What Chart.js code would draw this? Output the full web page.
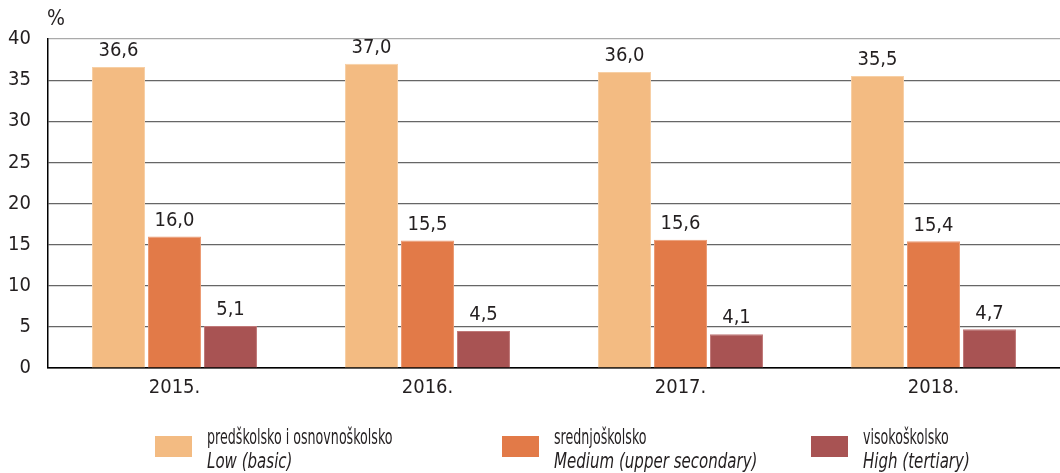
<!DOCTYPE html>
<html>
<head>
<meta charset="utf-8">
<script src="https://cdn.jsdelivr.net/npm/chart.js@4/dist/chart.umd.min.js"></script>
<style>
  html, body { margin: 0; padding: 0; background: #fff; }
  #wrap { position: relative; width: 1060px; height: 473px; }
  #chart { position: absolute; left: 0; top: 0; }
  .unit { position: absolute; left: 47px; top: 6px; font: 21px "DejaVu Sans Condensed", "Liberation Sans Narrow", sans-serif; color: #231f20; }
  .leg { position: absolute; top: 426px; font-family: "DejaVu Sans Condensed", "Liberation Sans Narrow", sans-serif; color: #231f20; }
  .leg .sw { position: absolute; left: 0; top: 10px; width: 37px; height: 21px; }
  .leg .t1, .leg .t2 { position: absolute; left: 52px; font-size: 22px; white-space: nowrap; transform-origin: left top; }
  .leg .t1 { top: -2px; transform: scaleX(0.64); }
  .leg .t2 { top: 22px; font-style: italic; transform: scaleX(0.76); }
</style>
</head>
<body>
<div id="wrap">
  <canvas id="chart" width="1060" height="473"></canvas>
  <div class="unit">%</div>
  <div id="legend"></div>
</div>
<script>
// data
var years = ["2015.", "2016.", "2017.", "2018."];
var seriesNames = ["predškolsko i osnovnoškolsko", "srednjoškolsko", "visokoškolsko"];
var seriesNamesEn = ["Low (basic)", "Medium (upper secondary)", "High (tertiary)"];
var lowBasic = [36.6, 37.0, 36.0, 35.5];
var mediumSecondary = [16.0, 15.5, 15.6, 15.4];
var highTertiary = [5.1, 4.5, 4.1, 4.7];
var colors = ["#f3bb82", "#e27a48", "#a85353"];
var edgeColors = ["#f7cfa4", "#ec9a72", "#c07878"];
var legendX = [155, 502, 811];

var fontFam = '"DejaVu Sans Condensed", "Liberation Sans Narrow", sans-serif';
var textCol = "#231f20";

// value labels over the bars
var barLabels = {
    id: "barLabels",
    afterDatasetsDraw: function(chart) {
        var ctx = chart.ctx;
        ctx.save();
        ctx.font = "20px " + fontFam;
        ctx.fillStyle = textCol;
        ctx.textAlign = "center";
        ctx.textBaseline = "bottom";
        chart.data.datasets.forEach(function(ds, i) {
            chart.getDatasetMeta(i).data.forEach(function(bar, j) {
                ctx.fillText(ds.data[j].toFixed(1).replace(".", ","), bar.x, bar.y - 6);
            });
        });
        ctx.restore();
    }
};

new Chart(document.getElementById("chart"), {
    type: "bar",
    data: {
        labels: years,
        datasets: [lowBasic, mediumSecondary, highTertiary].map(function(d, i) {
            return {
                label: seriesNames[i],
                data: d,
                backgroundColor: colors[i],
                borderColor: edgeColors[i],
                borderWidth: { top: 1, left: 1, right: 1, bottom: 0 },
                barPercentage: 0.946,
                categoryPercentage: 0.664
            };
        })
    },
    options: {
        responsive: false,
        animation: false,
        events: [],
        layout: { padding: { top: 39, right: 0, left: 0, bottom: 0 } },
        plugins: { legend: { display: false }, tooltip: { enabled: false } },
        scales: {
            x: {
                grid: { display: false, drawTicks: false },
                border: { color: "#000", width: 1.5 },
                ticks: { color: textCol, font: { family: fontFam, size: 20 }, padding: 8 },
                afterFit: function(s) { s.height = 105; }
            },
            y: {
                min: 0,
                max: 40,
                ticks: { stepSize: 5, color: textCol, font: { family: fontFam, size: 20 }, padding: 17 },
                grid: {
                    drawTicks: false,
                    color: function(c) { return c.tick && c.tick.value === 40 ? "#aaaaaa" : (c.tick && c.tick.value === 0 ? "#000" : "#666666"); },
                    lineWidth: 1.2
                },
                border: { color: "#000", width: 1.5 },
                afterFit: function(s) { s.width = 48; }
            }
        }
    },
    plugins: [barLabels]
});

// legend with two-line labels
var legHtml = "";
for (var i = 0; i < seriesNames.length; i++) {
    legHtml += '<div class="leg" style="left:' + legendX[i] + 'px">' +
        '<div class="sw" style="background:' + colors[i] + '"></div>' +
        '<div class="t1">' + seriesNames[i] + '</div>' +
        '<div class="t2">' + seriesNamesEn[i] + '</div></div>';
}
document.getElementById("legend").innerHTML = legHtml;
</script>
</body>
</html>
